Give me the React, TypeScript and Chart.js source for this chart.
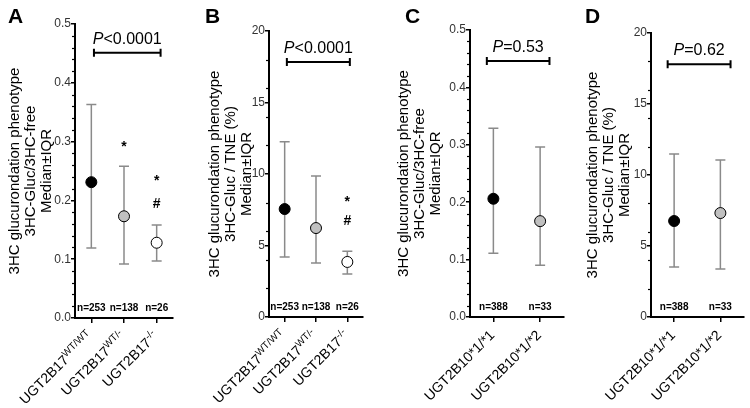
import React, { useEffect, useRef } from "react";
import { Chart, registerables } from "chart.js";
Chart.register(...registerables);

const FONT = "'Liberation Sans', Arial, Helvetica, sans-serif";
Chart.defaults.font.family = FONT;

// ---- data ----
const catsA = ["UGT2B17", "UGT2B17", "UGT2B17"];
const supA = ["WT/WT", "WT/-", "-/-"];
const catsC = ["UGT2B10*1/*1", "UGT2B10*1/*2"];
const supC = ["", ""];

const medA = [0.231, 0.173, 0.128];
const lowA = [0.119, 0.092, 0.097];
const highA = [0.363, 0.258, 0.158];

const medB = [7.55, 6.22, 3.85];
const lowB = [4.2, 3.78, 3.0];
const highB = [12.25, 9.86, 4.6];

const medC = [0.206, 0.167];
const lowC = [0.111, 0.09];
const highC = [0.329, 0.296];

const medD = [6.76, 7.32];
const lowD = [3.52, 3.38];
const highD = [11.48, 11.06];

const nAB = ["n=253", "n=138", "n=26"];
const nCD = ["n=388", "n=33"];

const colors3 = ["#000000", "#c0c0c0", "#ffffff"];
const colors2 = ["#000000", "#c0c0c0"];

// significance marks: [category, text, y value]
const sigA: [number, string, number][] = [[1, "*", 0.296], [2, "*", 0.238], [2, "#", 0.196]];
const sigB: [number, string, number][] = [[2, "*", 8.25], [2, "#", 6.78]];

const titleAC = ["3HC glucurondation phenotype", "3HC-Gluc/3HC-free", "Median±IQR"];
const titleBD = ["3HC glucurondation phenotype", "3HC-Gluc / TNE (%)", "Median±IQR"];

type Panel = {
  letter: string; letterX: number;
  canvasLeft: number; width: number; axisLeft: number; axisRight: number; top: number; bottom: number;
  ymax: number; major: number; minor: number; dec: number; tickFont: number;
  title: string[]; titleFirst: number;
  cats: string[]; sups: string[]; med: number[]; low: number[]; high: number[]; ns: string[]; colors: string[];
  sig: [number, string, number][];
  bracket: [number, number, number]; pRest: string;
};

const panels: Panel[] = [
  { letter: "A", letterX: 8, canvasLeft: 0, width: 187, axisLeft: 75, axisRight: 173, top: 24, bottom: 318,
    ymax: 0.5, major: 0.1, minor: 0.02, dec: 1, tickFont: 12, title: titleAC, titleFirst: 15,
    cats: catsA, sups: supA, med: medA, low: lowA, high: highA, ns: nAB, colors: colors3, sig: sigA,
    bracket: [0.08, 2.12, 0.451], pRest: "<0.0001" },
  { letter: "B", letterX: 205, canvasLeft: 187, width: 183, axisLeft: 269, axisRight: 363, top: 31, bottom: 317,
    ymax: 20, major: 5, minor: 2, dec: 0, tickFont: 12, title: titleBD, titleFirst: 215,
    cats: catsA, sups: supA, med: medB, low: lowB, high: highB, ns: nAB, colors: colors3, sig: sigB,
    bracket: [0.07, 2.08, 17.83], pRest: "<0.0001" },
  { letter: "C", letterX: 405, canvasLeft: 370, width: 200, axisLeft: 470, axisRight: 565, top: 30, bottom: 317,
    ymax: 0.5, major: 0.1, minor: 0.02, dec: 1, tickFont: 12, title: titleAC, titleFirst: 404,
    cats: catsC, sups: supC, med: medC, low: lowC, high: highC, ns: nCD, colors: colors2, sig: [],
    bracket: [-0.14, 1.2, 0.446], pRest: "=0.53" },
  { letter: "D", letterX: 585, canvasLeft: 570, width: 180, axisLeft: 651, axisRight: 745, top: 33, bottom: 317,
    ymax: 20, major: 5, minor: 2, dec: 0, tickFont: 12, title: titleBD, titleFirst: 593,
    cats: catsC, sups: supC, med: medD, low: lowD, high: highD, ns: nCD, colors: colors2, sig: [],
    bracket: [-0.14, 1.22, 17.8], pRest: "=0.62" },
];

const H = 408;

function buildChart(canvas: HTMLCanvasElement, p: Panel) {
  const n = p.cats.length;
  const majors: { value: number }[] = [];
  for (let v = 0; v <= p.ymax + 1e-9; v += p.major) majors.push({ value: +v.toFixed(4) });
  const minors: number[] = [];
  for (let v = p.minor; v < p.ymax - 1e-9; v += p.minor) {
    const r = v / p.major;
    if (Math.abs(r - Math.round(r)) > 1e-6) minors.push(+v.toFixed(4));
  }
  const titleLH = 16;

  const deco = {
    id: "deco",
    beforeDatasetsDraw(chart: any) {
      const { ctx, scales: { x, y } } = chart;
      ctx.save();
      ctx.strokeStyle = "#8a8a8a";
      ctx.lineWidth = 1.5;
      for (let i = 0; i < n; i++) {
        const px = x.getPixelForValue(i);
        const y1 = y.getPixelForValue(p.low[i]);
        const y2 = y.getPixelForValue(p.high[i]);
        ctx.beginPath();
        ctx.moveTo(px, y1); ctx.lineTo(px, y2);
        ctx.moveTo(px - 5, y1); ctx.lineTo(px + 5, y1);
        ctx.moveTo(px - 5, y2); ctx.lineTo(px + 5, y2);
        ctx.stroke();
      }
      ctx.restore();
    },
    afterDraw(chart: any) {
      const { ctx, scales: { x, y }, chartArea } = chart;
      ctx.save();
      // panel letter
      ctx.fillStyle = "#000";
      ctx.font = `bold 21px ${FONT}`;
      ctx.textAlign = "left";
      ctx.textBaseline = "alphabetic";
      ctx.fillText(p.letter, p.letterX - p.canvasLeft, 23);
      // minor ticks
      ctx.strokeStyle = "#000";
      ctx.lineWidth = 1.2;
      for (const v of minors) {
        const py = Math.round(y.getPixelForValue(v)) + 0.5;
        ctx.beginPath();
        ctx.moveTo(chartArea.left - 3, py);
        ctx.lineTo(chartArea.left, py);
        ctx.stroke();
      }
      // bracket
      const bx0 = x.getPixelForValue(p.bracket[0]);
      const bx1 = x.getPixelForValue(p.bracket[1]);
      const by = y.getPixelForValue(p.bracket[2]);
      ctx.lineWidth = 2;
      ctx.beginPath();
      ctx.moveTo(bx0, by); ctx.lineTo(bx1, by);
      ctx.moveTo(bx0, by - 4); ctx.lineTo(bx0, by + 4);
      ctx.moveTo(bx1, by - 4); ctx.lineTo(bx1, by + 4);
      ctx.stroke();
      // P text
      const fI = `italic 16px ${FONT}`;
      const fN = `16px ${FONT}`;
      ctx.font = fI;
      const wP = ctx.measureText("P").width;
      ctx.font = fN;
      const wR = ctx.measureText(p.pRest).width;
      const sx = (bx0 + bx1) / 2 - (wP + wR) / 2;
      ctx.textAlign = "left";
      ctx.font = fI;
      ctx.fillText("P", sx, by - 9);
      ctx.font = fN;
      ctx.fillText(p.pRest, sx + wP, by - 9);
      // n labels
      ctx.font = `bold 10px ${FONT}`;
      ctx.textAlign = "center";
      for (let i = 0; i < n; i++) {
        ctx.fillText(p.ns[i], x.getPixelForValue(i), chartArea.bottom - 7);
      }
      // significance marks
      ctx.font = `bold 14px ${FONT}`;
      for (const [ci, t, v] of p.sig) {
        const m = ctx.measureText(t);
        const cy = y.getPixelForValue(v);
        ctx.fillText(t, x.getPixelForValue(ci), cy + (m.actualBoundingBoxAscent - m.actualBoundingBoxDescent) / 2);
      }
      // x labels
      for (let i = 0; i < n; i++) {
        const px = x.getPixelForValue(i);
        ctx.save();
        ctx.translate(px + 2, chartArea.bottom + 19);
        ctx.rotate(-Math.PI / 4);
        ctx.textAlign = "right";
        ctx.textBaseline = "alphabetic";
        let sw = 0;
        if (p.sups[i]) {
          ctx.font = `10px ${FONT}`;
          sw = ctx.measureText(p.sups[i]).width;
          ctx.fillText(p.sups[i], 0, -5);
        }
        ctx.font = `14px ${FONT}`;
        ctx.fillText(p.cats[i], -sw, 0);
        ctx.restore();
      }
      ctx.restore();
    },
  };

  return new Chart(canvas, {
    type: "scatter",
    data: {
      datasets: [{
        data: p.med.map((v, i) => ({ x: i, y: v })),
        pointRadius: 5.5,
        pointHoverRadius: 5.5,
        pointBackgroundColor: p.colors,
        pointBorderColor: "#000",
        pointBorderWidth: 1,
      }],
    },
    options: {
      responsive: false,
      animation: false,
      devicePixelRatio: 1,
      events: [],
      layout: { padding: { left: 0, top: p.top, bottom: 0, right: p.width - (p.axisRight - p.canvasLeft) } },
      plugins: { legend: { display: false }, tooltip: { enabled: false } },
      scales: {
        x: {
          type: "linear", min: -0.5, max: n - 0.5,
          afterBuildTicks: (s: any) => { s.ticks = p.cats.map((_, i) => ({ value: i })); },
          afterFit: (s: any) => { s.height = H - p.bottom; },
          ticks: { display: false },
          grid: { display: true, drawOnChartArea: false, drawTicks: true, tickLength: 5, color: "#000", lineWidth: 1.5 },
          border: { display: true, color: "#000", width: 2 },
        },
        y: {
          min: 0, max: p.ymax,
          afterBuildTicks: (s: any) => { s.ticks = majors.map((t) => ({ ...t })); },
          afterFit: (s: any) => { s.width = p.axisLeft - p.canvasLeft; },
          ticks: {
            callback: (v: any) => Number(v).toFixed(p.dec),
            font: { size: p.tickFont }, color: "#333", padding: 0,
          },
          grid: { display: true, drawOnChartArea: false, drawTicks: true, tickLength: 4, color: "#000", lineWidth: 1.5 },
          border: { display: true, color: "#000", width: 2 },
          title: {
            display: true, text: p.title, color: "#000",
            font: { size: 15, lineHeight: titleLH / 15 },
            padding: { top: p.titleFirst - p.canvasLeft - titleLH / 2, bottom: 0 },
          },
        },
      },
    },
    plugins: [deco],
  } as any);
}

function PanelChart({ p }: { p: Panel }) {
  const ref = useRef<HTMLCanvasElement>(null);
  useEffect(() => {
    if (!ref.current) return;
    const c = buildChart(ref.current, p);
    return () => c.destroy();
  }, [p]);
  return (
    <canvas
      ref={ref}
      width={p.width}
      height={H}
      style={{ position: "absolute", left: p.canvasLeft, top: 0, width: p.width, height: H }}
    />
  );
}

export default function App() {
  return (
    <div style={{ position: "absolute", left: 0, top: 0, width: 750, height: H, background: "#fff", overflow: "hidden" }}>
      {panels.map((p) => <PanelChart key={p.letter} p={p} />)}
    </div>
  );
}
